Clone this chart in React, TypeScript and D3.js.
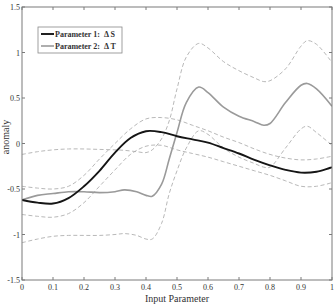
import React from "react";
import * as d3 from "d3";

const xs = [0, 0.05, 0.1, 0.15, 0.2, 0.25, 0.3, 0.35, 0.4, 0.45, 0.5, 0.55, 0.6, 0.65, 0.7, 0.75, 0.8, 0.85, 0.9, 0.95, 1.0];
const sMean = [-0.62, -0.65, -0.66, -0.6, -0.47, -0.3, -0.1, 0.06, 0.135, 0.125, 0.08, 0.045, 0.01, -0.05, -0.11, -0.18, -0.24, -0.29, -0.32, -0.31, -0.26];
const sUpper = [-0.47, -0.49, -0.5, -0.47, -0.35, -0.17, 0.0, 0.16, 0.27, 0.285, 0.26, 0.2, 0.14, 0.07, 0.01, -0.06, -0.12, -0.16, -0.18, -0.17, -0.14];
const sLower = [-0.78, -0.8, -0.81, -0.77, -0.65, -0.47, -0.29, -0.12, -0.03, -0.02, -0.07, -0.11, -0.15, -0.2, -0.25, -0.3, -0.35, -0.41, -0.47, -0.47, -0.43];

const tX = [0, 0.05, 0.1, 0.15, 0.2, 0.25, 0.3, 0.33, 0.37, 0.4, 0.42, 0.45, 0.475, 0.5, 0.53, 0.57, 0.6, 0.65, 0.7, 0.75, 0.78, 0.8, 0.85, 0.9, 0.92, 0.95, 1.0];
const tMean = [-0.62, -0.57, -0.55, -0.53, -0.53, -0.54, -0.53, -0.51, -0.53, -0.57, -0.58, -0.45, -0.17, 0.12, 0.45, 0.62, 0.56, 0.4, 0.3, 0.24, 0.2, 0.22, 0.45, 0.64, 0.66, 0.6, 0.41];
const tUpper = [-0.12, -0.09, -0.07, -0.06, -0.06, -0.065, -0.07, -0.075, -0.09, -0.1, -0.07, 0.05, 0.25, 0.6, 0.95, 1.1, 1.05, 0.9, 0.8, 0.72, 0.68, 0.69, 0.82, 1.07, 1.13, 1.09, 0.89];
const tLower = [-1.09, -1.05, -1.02, -1.01, -1.01, -1.01, -1.0, -0.99, -1.01, -1.05, -1.05, -0.88, -0.55, -0.3, -0.05, 0.14, 0.1, -0.05, -0.15, -0.22, -0.26, -0.26, -0.05, 0.16, 0.19, 0.12, -0.02];

const xTicks = [0, 0.1, 0.2, 0.3, 0.4, 0.5, 0.6, 0.7, 0.8, 0.9, 1];
const yTicks = [-1.5, -1, -0.5, 0, 0.5, 1, 1.5];
const legendLabels = ["Parameter 1:  \u0394 S", "Parameter 2:  \u0394 T"];

export default function App() {
  const left = 22, right = 332, top = 7, bottom = 280;
  const x = d3.scaleLinear().domain([0, 1]).range([left, right]);
  const y = d3.scaleLinear().domain([-1.5, 1.5]).range([bottom, top]);
  const line = (xv: number[], yv: number[]) =>
    d3.line<number>().x((_, i) => x(xv[i])).y((v) => y(v)).curve(d3.curveCatmullRom.alpha(0.5))(yv) || "";
  const frame = "#7a7a7a";
  const font = "'Liberation Serif', 'Times New Roman', 'DejaVu Serif', serif";
  return (
    <svg width={336} height={304} style={{ position: "absolute", left: 0, top: 0, background: "#fff" }}>
      <rect x={0} y={0} width={336} height={304} fill="#fff" />
      <defs>
        <clipPath id="plot"><rect x={left} y={top} width={right - left} height={bottom - top} /></clipPath>
      </defs>
      <g clipPath="url(#plot)" fill="none">
        <path d={line(tX, tUpper)} stroke="#b0b0b0" strokeWidth={0.9} strokeDasharray="4,2.5" />
        <path d={line(tX, tLower)} stroke="#b0b0b0" strokeWidth={0.9} strokeDasharray="4,2.5" />
        <path d={line(xs, sUpper)} stroke="#b0b0b0" strokeWidth={0.9} strokeDasharray="4,2.5" />
        <path d={line(xs, sLower)} stroke="#b0b0b0" strokeWidth={0.9} strokeDasharray="4,2.5" />
        <path d={line(tX, tMean)} stroke="#9a9a9a" strokeWidth={1.6} />
        <path d={line(xs, sMean)} stroke="#151515" strokeWidth={1.9} />
      </g>
      <rect x={left} y={top} width={right - left} height={bottom - top} fill="none" stroke={frame} strokeWidth={1} />
      {xTicks.map((t) => (
        <g key={"x" + t}>
          <line x1={x(t)} x2={x(t)} y1={bottom} y2={bottom - 3} stroke={frame} />
          <line x1={x(t)} x2={x(t)} y1={top} y2={top + 3} stroke={frame} />
          <text x={x(t)} y={290} fontSize={8} fontFamily={font} textAnchor="middle" fill="#333">{String(t)}</text>
        </g>
      ))}
      {yTicks.map((t) => (
        <g key={"y" + t}>
          <line x1={left} x2={left + 3} y1={y(t)} y2={y(t)} stroke={frame} />
          <line x1={right} x2={right - 3} y1={y(t)} y2={y(t)} stroke={frame} />
          <text x={left - 2} y={y(t) + 3} fontSize={8} fontFamily={font} textAnchor="end" fill="#333">{String(t)}</text>
        </g>
      ))}
      <text x={177} y={302} fontSize={10} fontFamily={font} textAnchor="middle" fill="#333">Input Parameter</text>
      <text transform={`translate(9,137) rotate(-90)`} fontSize={10} fontFamily={font} textAnchor="middle" fill="#333">anomaly</text>
      <g>
        <rect x={38} y={27} width={84} height={26} fill="#fff" stroke="#888" strokeWidth={0.8} />
        <line x1={41} x2={54} y1={34} y2={34} stroke="#151515" strokeWidth={1.9} />
        <line x1={41} x2={54} y1={46} y2={46} stroke="#9a9a9a" strokeWidth={1.6} />
        <text x={55} y={37} fontSize={8} fontFamily={font} fontWeight="bold" fill="#333" style={{ whiteSpace: "pre" }}>{legendLabels[0]}</text>
        <text x={55} y={49} fontSize={8} fontFamily={font} fontWeight="bold" fill="#333" style={{ whiteSpace: "pre" }}>{legendLabels[1]}</text>
      </g>
    </svg>
  );
}
